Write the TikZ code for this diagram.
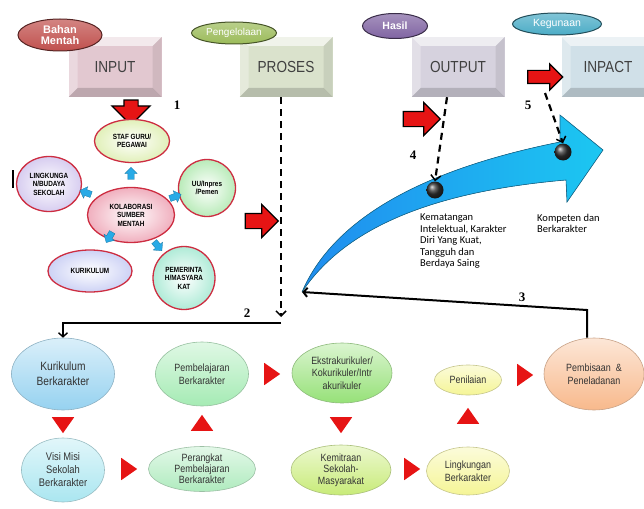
\documentclass[tikz,border=0pt]{standalone}
\usepackage{fontspec}
\setmainfont{Liberation Sans}
\newfontfamily\narrowfont[FakeStretch=0.85]{Liberation Sans}
\newfontfamily\numfont{Liberation Serif}
\newfontfamily\calfont{Carlito}
\usetikzlibrary{arrows.meta, shapes.geometric, shapes.arrows}
\definecolor{tagred}{RGB}{192,80,77}
\definecolor{taggreen}{RGB}{155,187,89}
\definecolor{tagpurple}{RGB}{128,100,162}
\definecolor{tagteal}{RGB}{75,172,198}
\definecolor{boxinput}{RGB}{226,200,208}
\definecolor{boxproses}{RGB}{218,226,204}
\definecolor{boxoutput}{RGB}{214,210,222}
\definecolor{boxinpact}{RGB}{208,224,232}
\definecolor{myred}{RGB}{230,20,20}
\definecolor{clred}{RGB}{205,45,65}
\definecolor{smallblue}{RGB}{40,170,230}
\definecolor{bigblue}{RGB}{40,175,235}
\definecolor{clpink}{RGB}{240,175,190}
\definecolor{clyellow}{RGB}{225,240,185}
\definecolor{cllilac}{RGB}{215,205,240}
\definecolor{clgreen}{RGB}{185,235,185}
\definecolor{clblue}{RGB}{205,210,245}
\definecolor{clteal}{RGB}{175,235,215}
\definecolor{flowblue}{RGB}{150,210,240}
\definecolor{flowcyan}{RGB}{170,230,240}
\definecolor{flowgreen}{RGB}{165,235,180}
\definecolor{flowmint}{RGB}{175,235,190}
\definecolor{flowlime}{RGB}{150,225,120}
\definecolor{flowolive}{RGB}{200,235,120}
\definecolor{flowyellow}{RGB}{245,245,150}
\definecolor{floworange}{RGB}{248,185,140}
\tikzset{>={Straight Barb[length=4pt,width=9pt]}}

\begin{document}
\begin{tikzpicture}[x=1pt, y=-1pt,
bevelbox/.style={
  rectangle,
  inner sep=0pt,
  minimum width=93pt,
  minimum height=60pt,
  fill=#1,
  text=black!75,
  font=\narrowfont\fontsize{16}{16}\selectfont,
  path picture={
    \path (path picture bounding box.north west) coordinate (pa)
      (path picture bounding box.north east) coordinate (pb)
      (path picture bounding box.south east) coordinate (pc)
      (path picture bounding box.south west) coordinate (pd);
    \path ([shift={(9pt,-9pt)}]pa) coordinate (qa)
      ([shift={(-9pt,-9pt)}]pb) coordinate (qb)
      ([shift={(-9pt,9pt)}]pc) coordinate (qc)
      ([shift={(9pt,9pt)}]pd) coordinate (qd);
    \fill[white,opacity=.6] (pa) -- (pb) -- (qb) -- (qa) -- cycle;
    \fill[white,opacity=.3] (pa) -- (qa) -- (qd) -- (pd) -- cycle;
    \fill[black,opacity=.08] (pb) -- (pc) -- (qc) -- (qb) -- cycle;
    \fill[black,opacity=.16] (pd) -- (qd) -- (qc) -- (pc) -- cycle;
  }
  },
tag/.style={
  ellipse,
  draw=#1!45!black,
  line width=1pt,
  top color=#1!70!white,
  bottom color=#1,
  text=white,
  inner sep=0pt,
  align=center
  },
redarr/.style={
  single arrow,
  fill=myred,
  draw=black,
  line width=1.2pt,
  inner xsep=0pt,
  inner ysep=7pt,
  single arrow head extend=9pt
  },
smallarr/.style={
  single arrow,
  fill=smallblue,
  draw=smallblue!70!black,
  line width=.3pt,
  inner xsep=0pt,
  inner ysep=3pt,
  minimum height=12pt,
  single arrow head extend=3pt
  },
cluster/.style={
  ellipse,
  draw=clred,
  line width=1.3pt,
  inner color=white,
  outer color=#1,
  inner sep=0pt,
  align=center,
  font=\bfseries\narrowfont\fontsize{7.5}{8.5}\selectfont
  },
myflow/.style={
  ellipse,
  draw=#1!60!gray,
  line width=.6pt,
  top color=#1!35!white,
  bottom color=#1,
  inner sep=0pt,
  align=center,
  text=black!80,
  font=\narrowfont\fontsize{10.5}{12.5}\selectfont
  },
redtri/.style={
  isosceles triangle,
  isosceles triangle apex angle=70,
  fill=myred,
  inner sep=0pt,
  minimum height=16pt
  },
dasharr/.style={
  line width=2.2pt,
  dash pattern=on 7pt off 5pt,
  -{Straight Barb[length=5pt,width=10pt,line width=1.5pt]}
  },
num/.style={
  font=\numfont\bfseries\fontsize{13}{13}\selectfont
  },
dot/.style={
  circle,
  ball color=black!80,
  inner sep=0pt,
  minimum size=17pt
  }
]
\useasboundingbox (0,0) rectangle (644,508);

%the top boxes
\node[bevelbox=boxinput] (input) at (115,67) {INPUT};
\node[bevelbox=boxproses] (proses) at (286,67) {PROSES};
\node[bevelbox=boxoutput] (output) at (458,67) {OUTPUT};
\node[bevelbox=boxinpact] (inpact) at (608,67) {INPACT};

%the tags
\node[tag=tagred, minimum width=84pt, minimum height=32pt, font=\bfseries\fontsize{11}{11}\selectfont] (bahan) at (60,35) {Bahan\\Mentah};
\node[tag=taggreen, minimum width=85pt, minimum height=22pt, font=\fontsize{10}{10}\selectfont] (kelola) at (234,33) {Pengelolaan};
\node[tag=tagpurple, minimum width=65pt, minimum height=25pt, font=\bfseries\fontsize{10.5}{10.5}\selectfont] (hasil) at (395,26) {Hasil};
\node[tag=tagteal, minimum width=89pt, minimum height=22pt, font=\fontsize{10.5}{10.5}\selectfont] (guna) at (557,24) {Kegunaan};

%the red block arrows
\node[redarr, minimum height=25pt, inner ysep=6.5pt, single arrow head extend=12pt, rotate=-90] (ra1) at (131,109) {};
\node[redarr, minimum height=33pt] (ra2) at (258,221) {};
\node[redarr, minimum height=37pt] (ra3) at (418,119) {};
\node[redarr, minimum height=35pt, inner ysep=6pt, single arrow head extend=6.5pt] (ra4) at (542,77) {};

%the cluster of raw inputs
\node[cluster=clpink, minimum width=87pt, minimum height=55pt] (kolab) at (131,215) {KOLABORASI\\SUMBER\\MENTAH};
\node[cluster=clyellow, minimum width=75pt, minimum height=43pt] (staf) at (132,141) {STAF GURU/\\PEGAWAI};
\node[cluster=cllilac, minimum width=65pt, minimum height=55pt] (lingk) at (49,184) {LINGKUNGA\\N/BUDAYA\\SEKOLAH};
\node[cluster=clgreen, minimum width=57pt, minimum height=57pt] (uu) at (207,188) {UU/Inpres\\/Pemen};
\node[cluster=clblue, minimum width=84pt, minimum height=42pt] (kurik) at (90,271) {KURIKULUM};
\node[cluster=clteal, minimum width=62pt, minimum height=63pt] (pemer) at (184,278) {PEMERINTA\\H/MASYARA\\KAT};
\node[smallarr, rotate=90] (sa1) at (131,175) {};
\node[smallarr, rotate=160] (sa2) at (87,193) {};
\node[smallarr, rotate=20] (sa3) at (174,197) {};
\node[smallarr, rotate=-120] (sa4) at (110,236) {};
\node[smallarr, rotate=-50] (sa5) at (157,245) {};
\draw[line width=1.3pt] (13,170) -- (13,188);

%the big blue arrow
\coordinate (tail) at (302,292);
\fill[left color=bigblue!80!blue, right color=bigblue!70!cyan, draw=bigblue!60!black, line width=.6pt]
  (tail) .. controls (335,215) and (430,168) .. (560,142) -- (560,115) -- (603,150)
  -- (567,202) -- (566,180) .. controls (450,190) and (350,220) .. (tail) -- cycle;
\node[dot] (dot1) at (435,190) {};
\node[dot] (dot2) at (563,152) {};
\node[anchor=north west, align=left, font=\calfont\fontsize{10.5}{11.5}\selectfont, inner sep=0pt] (kemat) at (420,214)
  {Kematangan\\Intelektual, Karakter\\Diri Yang Kuat,\\Tangguh dan\\Berdaya Saing};
\node[anchor=north west, align=left, font=\calfont\fontsize{10.5}{11.5}\selectfont, inner sep=0pt] (kompet) at (537,214)
  {Kompeten dan\\Berkarakter};

%the process flow
\node[myflow=flowblue, minimum width=103pt, minimum height=72pt, font=\narrowfont\fontsize{12}{15}\selectfont] (kurber) at (63,374) {Kurikulum\\Berkarakter};
\node[myflow=flowcyan, minimum width=83pt, minimum height=64pt, font=\narrowfont\fontsize{11}{13}\selectfont] (visi) at (63,470) {Visi Misi\\Sekolah\\Berkarakter};
\node[myflow=flowgreen, minimum width=93pt, minimum height=64pt] (pembel) at (202,374) {Pembelajaran\\Berkarakter};
\node[myflow=flowmint, minimum width=107pt, minimum height=45pt, font=\narrowfont\fontsize{10.5}{11}\selectfont] (perang) at (202,469) {Perangkat\\Pembelajaran\\Berkarakter};
\node[myflow=flowlime, minimum width=100pt, minimum height=60pt] (ekstra) at (342,373) {Ekstrakurikuler/\\Kokurikuler/Intr\\akurikuler};
\node[myflow=flowolive, minimum width=100pt, minimum height=50pt, font=\narrowfont\fontsize{10.5}{11.5}\selectfont] (kemit) at (341,470) {Kemitraan\\Sekolah-\\Masyarakat};
\node[myflow=flowyellow, minimum width=67pt, minimum height=30pt] (penil) at (468,380) {Penilaian};
\node[myflow=flowyellow, minimum width=83pt, minimum height=48pt] (lingber) at (468,471) {Lingkungan\\Berkarakter};
\node[myflow=floworange, minimum width=100pt, minimum height=72pt] (pembis) at (594,374) {Pembisaan~~\&\\Peneladanan};

%the red triangles
\node[redtri, rotate=-90] (t1) at (63,423) {};
\node[redtri] (t2) at (127,469) {};
\node[redtri, rotate=90] (t3) at (202,425) {};
\node[redtri] (t4) at (270,374) {};
\node[redtri, rotate=-90] (t5) at (341,423) {};
\node[redtri] (t6) at (410,469) {};
\node[redtri, rotate=90] (t7) at (468,418) {};
\node[redtri] (t8) at (523,375) {};

%the connectors
\coordinate (tip2) at (281,317);
\coordinate (bend2) at (281,323);
\coordinate (bend3) at (587,310);
\coordinate (start5) at (545,93);
\draw[dasharr] (proses.south -| tip2) -- (tip2);
\draw[line width=1.4pt, ->] (bend2) -| (kurber.north);
\draw[line width=2pt, ->] (pembis.north -| bend3) -- (bend3) -- (tail);
\draw[dasharr] ([xshift=-11pt]output.south) -- (dot1.north);
\draw[dasharr] (start5) -- (dot2.north);

%the numbers
\node[num] (n1) at (177,105) {1};
\node[num] (n2) at (247,313) {2};
\node[num] (n3) at (522,297) {3};
\node[num] (n4) at (413,155) {4};
\node[num] (n5) at (528,105) {5};
\end{tikzpicture}
\end{document}
